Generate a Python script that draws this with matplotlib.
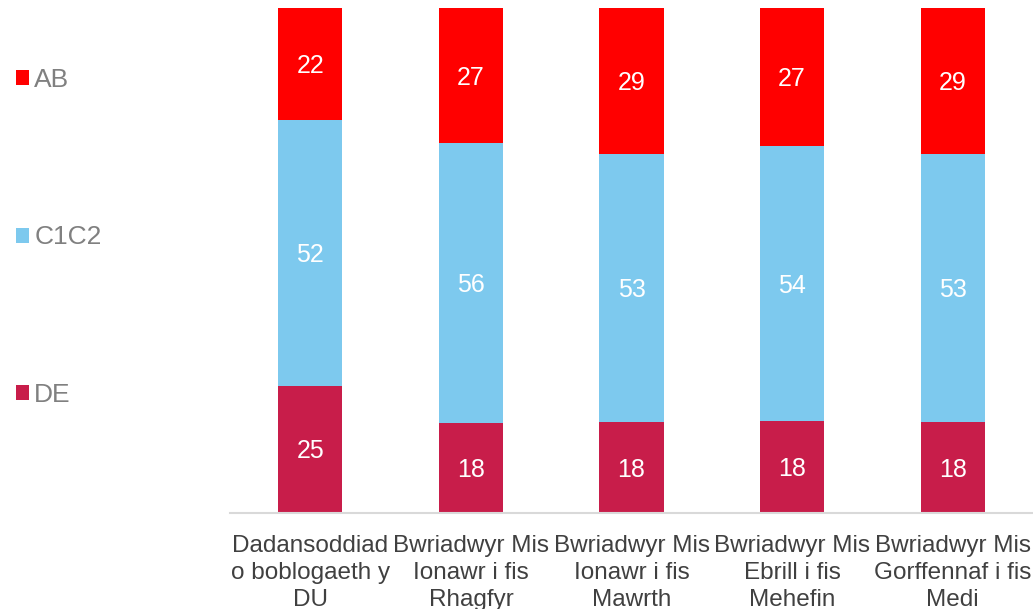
import matplotlib.pyplot as plt
import numpy as np

plt.rcParams['font.family'] = ['Liberation Sans', 'DejaVu Sans']

categories = ["Dadansoddiad\no boblogaeth y\nDU",
              "Bwriadwyr Mis\nIonawr i fis\nRhagfyr",
              "Bwriadwyr Mis\nIonawr i fis\nMawrth",
              "Bwriadwyr Mis\nEbrill i fis\nMehefin",
              "Bwriadwyr Mis\nGorffennaf i fis\nMedi"]
de = [25, 18, 18, 18, 18]
c1c2 = [52, 56, 53, 54, 53]
ab = [22, 27, 29, 27, 29]

series = [("DE", de, "#C81D4A"), ("C1C2", c1c2, "#7DC9EE"), ("AB", ab, "#FF0000")]

totals = np.array(de) + np.array(c1c2) + np.array(ab)

fig = plt.figure(figsize=(10.33, 6.09), dpi=100)
ax = fig.add_axes([0.2227, 0.1576, 0.7773, 0.8292])

x = np.arange(len(categories))
bottom = np.zeros(len(categories))
handles = {}
for name, vals, col in series:
    share = np.array(vals) / totals
    bars = ax.bar(x, share, 0.4, bottom=bottom, color=col, label=name)
    handles[name] = bars
    for xi, b, s, v in zip(x, bottom, share, vals):
        ax.text(xi, b + s / 2 - 0.004, str(v), ha='center', va='center',
                color='white', fontsize=18)
    bottom += share

ax.set_xlim(-0.5, 4.5)
ax.set_ylim(0, 1)
ax.set_yticks([])
ax.set_xticks(x)
ax.set_xticklabels(categories, fontsize=17.5, color='#404040', linespacing=1.28)
ax.tick_params(axis='x', length=0, pad=16)
for s in ['top', 'left', 'right']:
    ax.spines[s].set_visible(False)
ax.spines['bottom'].set_color('#D9D9D9')
ax.spines['bottom'].set_linewidth(1.5)

leg = fig.legend([handles["AB"], handles["C1C2"], handles["DE"]],
                 ["AB", "C1C2", "DE"], loc='upper left',
                 bbox_to_anchor=(0.0, 0.915), frameon=False, borderaxespad=0.2,
                 fontsize=19, handlelength=0.5, handleheight=0.5,
                 handletextpad=0.2, labelspacing=5.07, labelcolor='#808080')

fig.savefig("out.png", dpi=100)
